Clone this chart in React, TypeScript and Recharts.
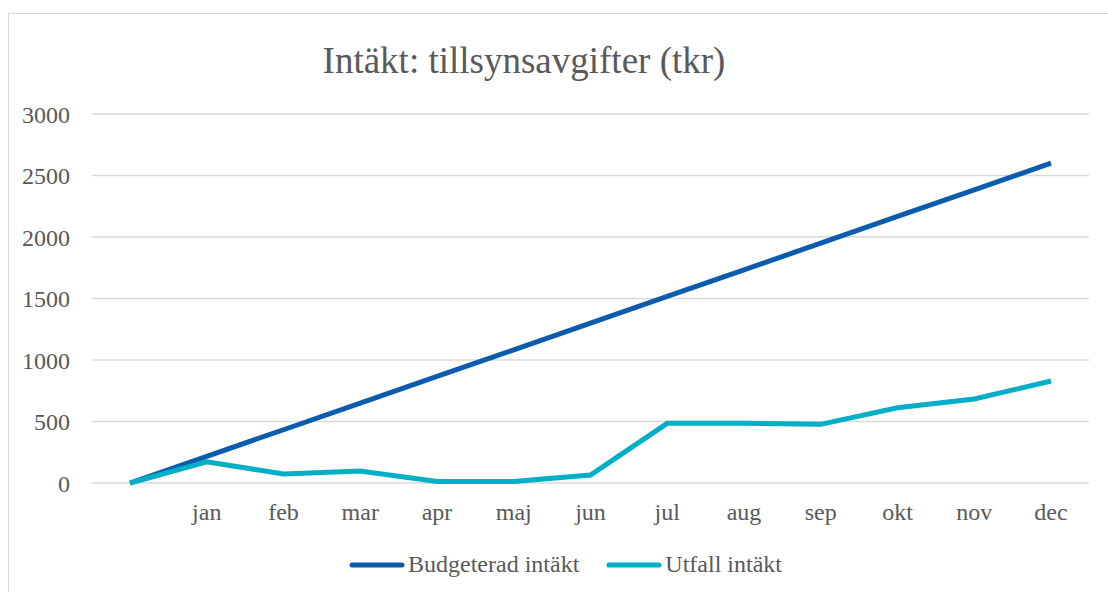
import { CartesianGrid, Legend, Line, LineChart, XAxis, YAxis } from "recharts";

const months = ["", "jan", "feb", "mar", "apr", "maj", "jun", "jul", "aug", "sep", "okt", "nov", "dec"];
const budgeterad = [0, 217, 433, 650, 867, 1083, 1300, 1517, 1733, 1950, 2167, 2383, 2600];
const utfall = [0, 173, 73, 98, 12, 12, 65, 485, 485, 477, 612, 683, 829];
const yTicks = [0, 500, 1000, 1500, 2000, 2500, 3000];

const series = [
  { key: "budget", name: "Budgeterad intäkt", color: "#0B5CAD" },
  { key: "utfall", name: "Utfall intäkt", color: "#00AEC7" },
];

const data = months.map((m, i) => ({ month: m, budget: budgeterad[i], utfall: utfall[i] }));

const FONT = '"Liberation Serif", "Times New Roman", serif';
const TEXT = "#595959";

function LegendContent() {
  return (
    <div style={{ display: "flex", justifyContent: "center", alignItems: "center", fontFamily: FONT, fontSize: 24, color: TEXT, paddingLeft: 23 }}>
      {series.map((s, i) => (
        <div key={s.key} style={{ display: "flex", alignItems: "center", marginLeft: i ? 27 : 0 }}>
          <svg width={56} height={8} style={{ marginRight: 3 }}>
            <line x1={3} y1={4} x2={53} y2={4} stroke={s.color} strokeWidth={5} strokeLinecap="round" />
          </svg>
          <span>{s.name}</span>
        </div>
      ))}
    </div>
  );
}

export default function App() {
  return (
    <div style={{ position: "absolute", left: 0, top: 0, width: 1108, height: 592, overflow: "hidden", background: "#fff" }}>
      <div style={{ position: "absolute", left: 8, top: 13, width: 1120, height: 620, border: "1px solid #d9d9d9" }} />
      <div
        style={{
          position: "absolute",
          left: 0,
          width: 1048,
          top: 41,
          textAlign: "center",
          fontFamily: FONT,
          fontSize: 37,
          lineHeight: "40px",
          color: TEXT,
        }}
      >
        Intäkt: tillsynsavgifter (tkr)
      </div>
      <div style={{ position: "absolute", left: 0, top: 0 }}>
        <LineChart width={1108} height={592} data={data} margin={{ top: 114, right: 19, bottom: 59, left: 0 }}>
          <CartesianGrid vertical={false} stroke="#d9d9d9" strokeWidth={1.5} />
          <XAxis
            dataKey="month"
            height={50}
            axisLine={false}
            tickLine={false}
            tickSize={0}
            tickMargin={20}
            padding={{ left: 38, right: 38 }}
            interval={0}
            tick={{ fill: TEXT, fontSize: 24, fontFamily: FONT }}
          />
          <YAxis
            width={92}
            domain={[0, 3000]}
            ticks={yTicks}
            axisLine={false}
            tickLine={false}
            tickSize={0}
            tickMargin={22}
            tick={{ fill: TEXT, fontSize: 24, fontFamily: FONT }}
          />
          <Legend
            layout="horizontal"
            verticalAlign="middle"
            align="center"
            content={<LegendContent />}
            wrapperStyle={{ top: 551, left: 0, width: 1108 }}
          />
          {series.map((s) => (
            <Line
              key={s.key}
              type="linear"
              dataKey={s.key}
              name={s.name}
              stroke={s.color}
              strokeWidth={5}
              dot={false}
              activeDot={false}
              isAnimationActive={false}
            />
          ))}
        </LineChart>
      </div>
    </div>
  );
}
